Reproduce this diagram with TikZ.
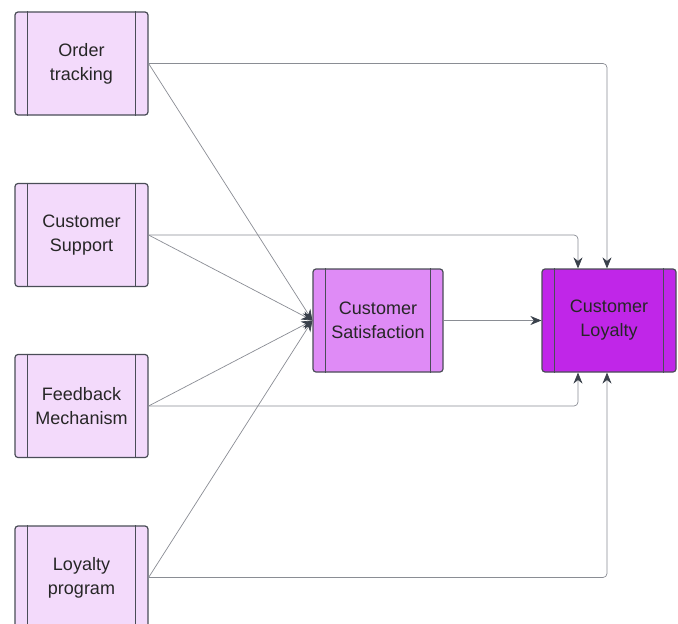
\documentclass[tikz,border=0pt]{standalone}
\usepackage{fontspec}
\setmainfont{Liberation Sans}
\usetikzlibrary{arrows.meta}
\definecolor{palepink}{HTML}{F3DAFB}
\definecolor{midpink}{HTML}{DF8BF6}
\definecolor{deeppink}{HTML}{C026E8}
\definecolor{boxedge}{HTML}{4A4D57}
\definecolor{wire}{HTML}{8A8D94}
\definecolor{tipdark}{HTML}{3A414B}
\tikzset{
  procbox/.style={draw=boxedge, line width=1.2pt, rounded corners=3pt, minimum width=133pt,
    minimum height=103pt, align=center, inner sep=0pt, text=black!85,
    font=\fontsize{18}{24}\selectfont},
  wirearrow/.style={draw=wire, line width=0.7pt, rounded corners=4pt,
    -{Stealth[length=11pt, width=9pt, color=tipdark]}}
}
\begin{document}
\begin{tikzpicture}[x=1pt, y=-1pt]
  \useasboundingbox[fill=white] (0,0) rectangle (678,624);
  % inputs on the left
  \node[procbox, fill=palepink] (order) at (81.5,63.5) {Order\\tracking};
  \node[procbox, fill=palepink] (support) at (81.5,235) {Customer\\Support};
  \node[procbox, fill=palepink] (feedback) at (81.5,406) {Feedback\\Mechanism};
  \node[procbox, fill=palepink] (program) at (81.5,577.5) {Loyalty\\program};
  % middle and right
  \node[procbox, fill=midpink, minimum width=130pt] (satisf) at (378,320.5) {Customer\\Satisfaction};
  \node[procbox, fill=deeppink, minimum width=134pt] (loyal) at (609,320.5) {Customer\\Loyalty};
  % side bars of every box
  \foreach \n in {order,support,feedback,program,satisf,loyal}{
    \draw[boxedge, line width=1.2pt] ([xshift=13pt]\n.north west) -- ([xshift=13pt]\n.south west);
    \draw[boxedge, line width=1.2pt] ([xshift=-13pt]\n.north east) -- ([xshift=-13pt]\n.south east);
  }
  % into satisfaction
  \foreach \n in {order,support,feedback,program}{
    \draw[wirearrow] (\n.east) -- (satisf.west);
  }
  \draw[wirearrow] (satisf.east) -- (loyal.west);
  % straight to loyalty
  \draw[wirearrow] (order.east) -| ([xshift=-2pt]loyal.north);
  \draw[wirearrow] (support.east) -| ([xshift=-31pt]loyal.north);
  \draw[wirearrow] (feedback.east) -| ([xshift=-31pt]loyal.south);
  \draw[wirearrow] (program.east) -| ([xshift=-2pt]loyal.south);
\end{tikzpicture}
\end{document}
